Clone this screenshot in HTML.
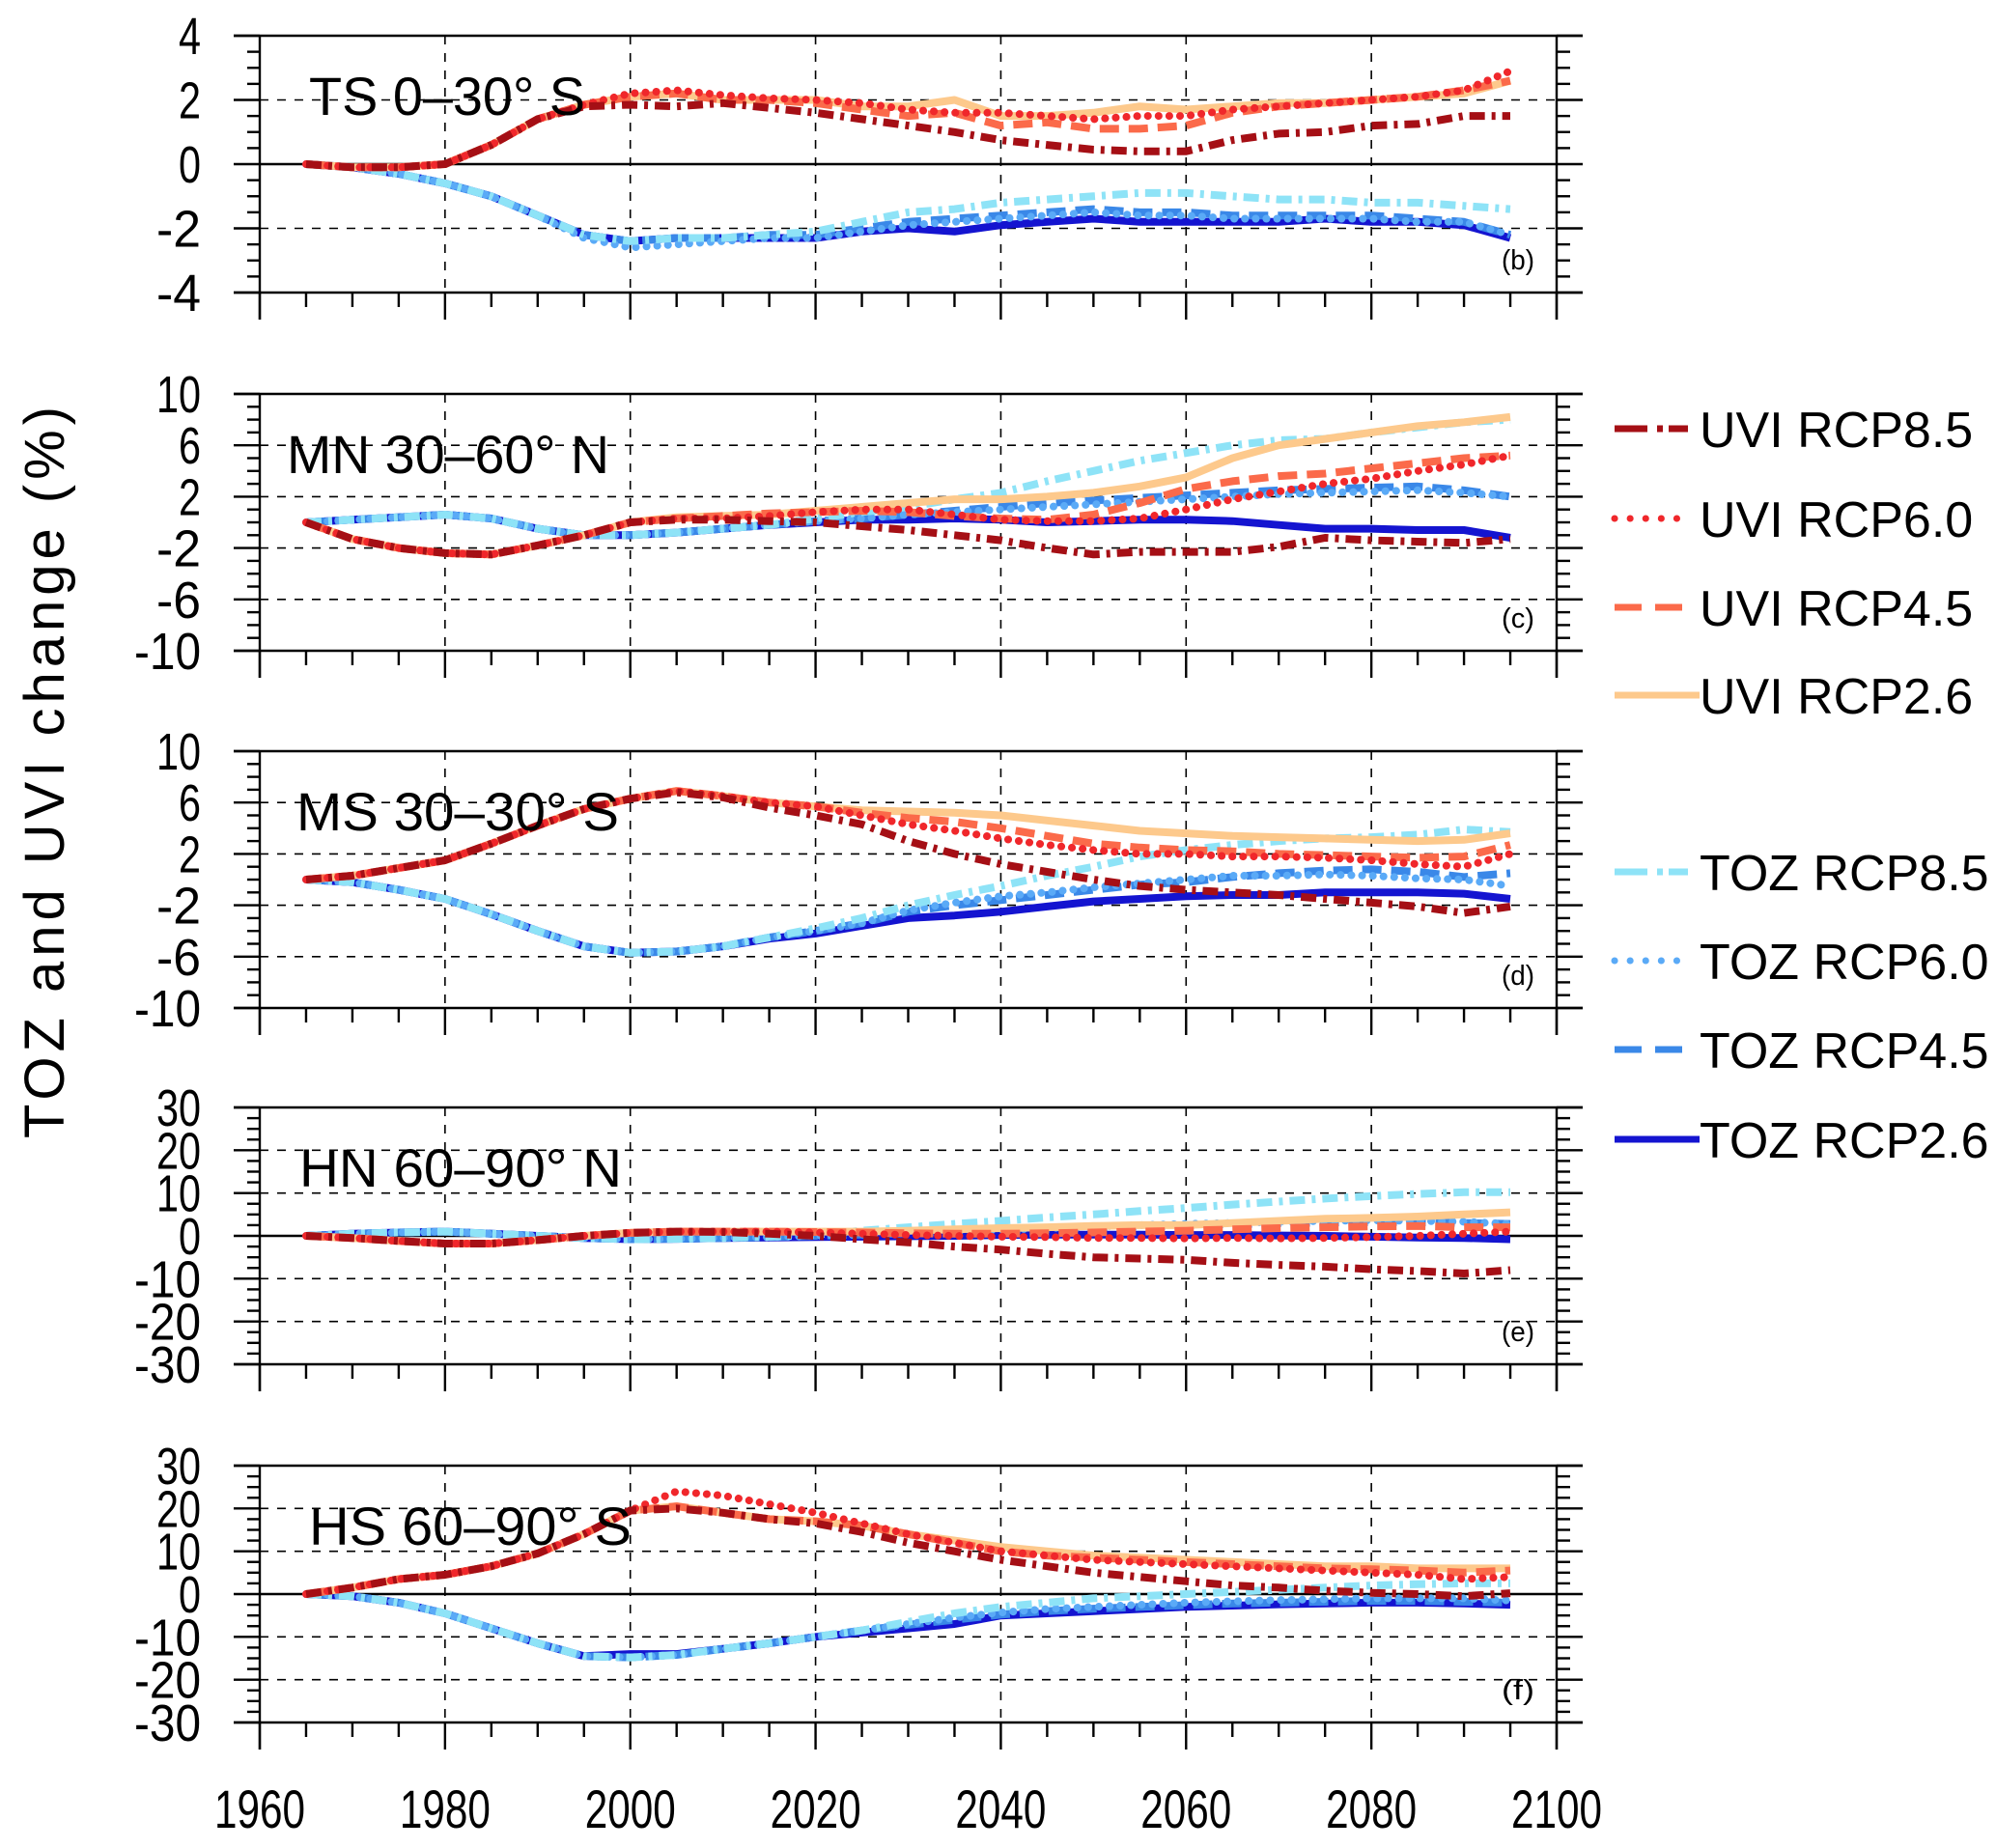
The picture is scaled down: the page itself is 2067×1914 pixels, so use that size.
<!DOCTYPE html>
<html><head><meta charset="utf-8"><style>
html,body{margin:0;padding:0;background:#fff;}
svg{display:block;font-family:"Liberation Sans",Arial,sans-serif;}
</style></head><body>
<svg id="chart" width="2067" height="1914" viewBox="0 0 2067 1914" xmlns="http://www.w3.org/2000/svg"></svg>
<script>
// ---- data (years 1965..2095 step 5) ----
const years = [1965,1970,1975,1980,1985,1990,1995,2000,2005,2010,2015,2020,2025,2030,2035,2040,2045,2050,2055,2060,2065,2070,2075,2080,2085,2090,2095];
const panelTitles = ["TS 0\u201330\u00b0 S","MN 30\u201360\u00b0 N","MS 30\u201330\u00b0 S","HN 60\u201390\u00b0 N","HS 60\u201390\u00b0 S"];
const panelLetters = ["(b)","(c)","(d)","(e)","(f)"];
const xTicks = [1960,1980,2000,2020,2040,2060,2080,2100];
const yTicks0 = [-4,-2,0,2,4];
const yTicks1 = [-10,-6,-2,2,6,10];
const yTicks2 = [-10,-6,-2,2,6,10];
const yTicks3 = [-30,-20,-10,0,10,20,30];
const yTicks4 = [-30,-20,-10,0,10,20,30];
const seriesNames = ["UVI RCP8.5","UVI RCP6.0","UVI RCP4.5","UVI RCP2.6","TOZ RCP8.5","TOZ RCP6.0","TOZ RCP4.5","TOZ RCP2.6"];

// TS
const ts_u85 = [0,-0.1,-0.1,0,0.6,1.4,1.8,1.85,1.8,1.9,1.75,1.6,1.4,1.2,1.0,0.75,0.6,0.45,0.4,0.4,0.75,0.95,1.0,1.2,1.25,1.5,1.5];
const ts_u60 = [0,-0.1,-0.1,0,0.6,1.4,1.85,2.2,2.3,2.15,2.05,2.0,1.9,1.7,1.6,1.6,1.5,1.4,1.5,1.5,1.7,1.8,1.9,2.0,2.1,2.3,2.9];
const ts_u45 = [0,-0.1,-0.1,0,0.6,1.4,1.85,2.1,2.2,2.0,2.0,1.9,1.7,1.5,1.6,1.2,1.3,1.1,1.1,1.2,1.6,1.8,1.9,2.0,2.1,2.3,2.6];
const ts_u26 = [0,-0.1,-0.1,0,0.6,1.4,1.85,2.1,2.2,2.0,2.0,2.0,1.8,1.8,2.0,1.5,1.5,1.6,1.8,1.7,1.8,1.9,1.9,2.0,2.1,2.2,2.6];
const ts_t85 = [0,-0.1,-0.3,-0.6,-1.0,-1.6,-2.2,-2.4,-2.3,-2.3,-2.2,-2.1,-1.8,-1.5,-1.4,-1.2,-1.1,-1.0,-0.9,-0.9,-1.0,-1.1,-1.1,-1.2,-1.2,-1.3,-1.4];
const ts_t60 = [0,-0.1,-0.3,-0.6,-1.0,-1.6,-2.3,-2.6,-2.5,-2.4,-2.3,-2.3,-2.1,-1.9,-1.8,-1.7,-1.6,-1.5,-1.6,-1.6,-1.7,-1.7,-1.7,-1.7,-1.8,-1.8,-2.2];
const ts_t45 = [0,-0.1,-0.3,-0.6,-1.0,-1.6,-2.2,-2.4,-2.3,-2.3,-2.2,-2.2,-2.0,-1.8,-1.7,-1.6,-1.5,-1.4,-1.5,-1.5,-1.6,-1.6,-1.6,-1.6,-1.7,-1.8,-2.2];
const ts_t26 = [0,-0.1,-0.3,-0.6,-1.0,-1.6,-2.2,-2.4,-2.3,-2.3,-2.3,-2.3,-2.1,-2.0,-2.1,-1.9,-1.8,-1.7,-1.8,-1.8,-1.8,-1.8,-1.7,-1.8,-1.8,-1.9,-2.3];
// MN
const mn_u85 = [0,-1.3,-2.0,-2.4,-2.5,-1.8,-1.0,0,0.2,0.2,0.1,0,-0.3,-0.6,-1.0,-1.4,-2.0,-2.5,-2.3,-2.3,-2.3,-1.9,-1.2,-1.4,-1.5,-1.6,-1.3];
const mn_u60 = [0,-1.3,-2.0,-2.4,-2.5,-1.8,-1.0,0,0.3,0.3,0.5,0.8,1.0,1.0,0.6,0.2,0.1,0.1,0.3,1.0,1.8,2.4,3.0,3.4,4.0,4.5,5.2];
const mn_u45 = [0,-1.3,-2.0,-2.4,-2.5,-1.8,-1.0,0,0.3,0.5,0.7,0.8,0.9,0.8,0.5,0.3,0.2,0.6,1.5,2.6,3.2,3.6,3.8,4.2,4.6,5.0,5.2];
const mn_u26 = [0,-1.3,-2.0,-2.4,-2.5,-1.8,-1.0,0,0.4,0.5,0.6,0.9,1.2,1.5,1.8,1.8,2.0,2.3,2.8,3.5,5.0,6.0,6.5,7.0,7.5,7.8,8.2];
const mn_t85 = [0,0.2,0.4,0.6,0.3,-0.5,-1.0,-1.0,-0.8,-0.5,-0.2,0.3,0.8,1.2,1.8,2.3,3.2,4.0,4.8,5.4,6.0,6.4,6.5,7.0,7.4,7.8,8.0];
const mn_t60 = [0,0.2,0.4,0.6,0.3,-0.5,-1.0,-1.0,-0.8,-0.5,-0.2,0.1,0.3,0.6,0.8,1.0,1.2,1.4,1.6,1.8,2.0,2.2,2.3,2.4,2.5,2.3,2.0];
const mn_t45 = [0,0.2,0.4,0.6,0.3,-0.5,-1.0,-1.0,-0.8,-0.5,-0.2,0.1,0.3,0.6,0.9,1.2,1.5,1.7,1.9,2.1,2.3,2.5,2.6,2.7,2.8,2.5,2.0];
const mn_t26 = [0,0.2,0.4,0.6,0.3,-0.5,-1.0,-1.0,-0.8,-0.5,-0.2,0,0.2,0.2,0.3,0.2,0,0.1,0.2,0.2,0.1,-0.2,-0.5,-0.5,-0.6,-0.6,-1.2];
// MS
const ms_u85 = [0,0.3,0.9,1.5,2.8,4.2,5.5,6.3,6.8,6.4,5.6,5.0,4.3,3.0,2.0,1.2,0.6,0,-0.5,-0.8,-1.0,-1.2,-1.5,-1.8,-2.1,-2.6,-2.1];
const ms_u60 = [0,0.3,0.9,1.5,2.8,4.2,5.5,6.3,6.9,6.5,6.0,5.7,5.0,4.3,3.8,3.2,2.7,2.3,2.0,2.0,1.8,1.8,1.7,1.5,1.2,1.0,2.0];
const ms_u45 = [0,0.3,0.9,1.5,2.8,4.2,5.5,6.3,6.9,6.5,6.0,5.7,5.2,4.8,4.5,4.0,3.4,2.8,2.5,2.3,2.2,2.0,1.9,1.8,1.7,1.8,2.7];
const ms_u26 = [0,0.3,0.9,1.5,2.8,4.2,5.5,6.3,6.9,6.5,6.0,5.7,5.4,5.3,5.2,5.0,4.6,4.2,3.8,3.6,3.4,3.3,3.2,3.1,3.0,3.1,3.6];
const ms_t85 = [0,-0.2,-0.8,-1.5,-2.7,-4.0,-5.2,-5.7,-5.6,-5.2,-4.5,-3.8,-3.0,-2.0,-1.2,-0.5,0.3,1.0,1.8,2.3,2.7,3.0,3.2,3.3,3.5,3.9,3.7];
const ms_t60 = [0,-0.2,-0.8,-1.5,-2.7,-4.0,-5.2,-5.7,-5.6,-5.2,-4.5,-4.0,-3.4,-2.4,-1.8,-1.3,-1.0,-0.6,-0.3,0,0.3,0.3,0.4,0.3,0.1,0,-0.5];
const ms_t45 = [0,-0.2,-0.8,-1.5,-2.7,-4.0,-5.2,-5.7,-5.6,-5.2,-4.5,-4.0,-3.4,-2.5,-2.0,-1.6,-1.2,-0.8,-0.4,-0.2,0.2,0.5,0.7,0.8,0.6,0.2,0.5];
const ms_t26 = [0,-0.2,-0.8,-1.5,-2.7,-4.0,-5.2,-5.7,-5.6,-5.2,-4.6,-4.2,-3.6,-3.0,-2.8,-2.5,-2.1,-1.7,-1.5,-1.3,-1.2,-1.2,-1.0,-1.0,-1.0,-1.1,-1.5];
// HN
const hn_u85 = [0,-0.5,-1.2,-1.8,-1.8,-1.0,0,0.7,1.0,0.9,0.5,0,-0.8,-1.5,-2.5,-3.2,-4.2,-5.0,-5.3,-5.6,-6.3,-6.8,-7.2,-7.8,-8.2,-8.8,-8.0];
const hn_u60 = [0,-0.5,-1.2,-1.8,-1.8,-1.0,0,0.7,1.0,1.0,1.0,0.8,0.5,0.2,0,-0.2,-0.3,-0.5,-0.5,-0.6,-0.5,-0.6,-0.5,-0.3,0,0.5,1.0];
const hn_u45 = [0,-0.5,-1.2,-1.8,-1.8,-1.0,0,0.7,1.0,1.0,1.0,0.9,0.8,0.6,0.5,0.5,0.6,0.8,1.0,1.2,1.5,1.8,2.0,2.2,2.3,2.0,2.0];
const hn_u26 = [0,-0.5,-1.2,-1.8,-1.8,-1.0,0,0.7,1.0,1.0,1.0,1.0,1.0,1.2,1.5,1.8,2.0,2.3,2.5,2.5,3.0,3.5,4.0,4.2,4.5,5.0,5.5];
const hn_t85 = [0,0.5,0.8,1.0,0.5,0,-0.5,-0.8,-0.7,-0.5,-0.2,0.3,1.2,2.0,2.8,3.5,4.3,5.0,5.8,6.5,7.3,8.0,8.7,9.3,9.8,10.2,10.2];
const hn_t60 = [0,0.5,0.8,1.0,0.5,0,-0.5,-0.8,-0.7,-0.5,-0.3,0,0.3,0.6,1.0,1.4,1.8,2.2,2.5,2.8,3.0,3.3,3.5,3.6,3.5,3.3,2.8];
const hn_t45 = [0,0.5,0.8,1.0,0.5,0,-0.5,-0.8,-0.7,-0.5,-0.3,0,0.3,0.6,1.0,1.3,1.6,1.9,2.2,2.5,2.7,2.9,3.1,3.2,3.2,3.0,2.8];
const hn_t26 = [0,0.5,0.8,1.0,0.5,0,-0.5,-0.8,-0.7,-0.5,-0.4,-0.3,-0.2,-0.1,0,0.2,0.3,0.3,0.3,0.2,0.2,0.1,0,-0.2,-0.4,-0.5,-0.8];
// HS
const hs_u85 = [0,1.5,3.5,4.5,6.5,9.5,14,19.5,20,19,17.5,16.5,14.5,12,10,8,6.5,5,4,3,2,1.5,0.8,0.3,0,-0.5,0.2];
const hs_u60 = [0,1.5,3.5,4.5,6.5,9.5,14,19.5,24,23,21,19,16.5,14,12,10,9,8,7.5,7,6.5,6,5.5,5,4.5,3.5,4];
const hs_u45 = [0,1.5,3.5,4.5,6.5,9.5,14,19.5,20.5,19,17.5,17,16,14,12,10,9,8.5,8,7.5,7,6.5,6,5.8,5.5,5,5.5];
const hs_u26 = [0,1.5,3.5,4.5,6.5,9.5,14,19.5,20.5,19,17.5,17,16,14,12.5,11,10,9,8.5,8,7.5,7,6.5,6.5,6,6,6];
const hs_t85 = [0,-0.5,-2,-4.5,-8,-11.5,-14.5,-14.8,-14.2,-12.8,-11.5,-10,-8.5,-6.5,-4.5,-3,-2,-1,-0.5,0,0.5,1,1.5,2,2.3,2.5,2.5];
const hs_t60 = [0,-0.5,-2,-4.5,-8,-11.5,-14.5,-14.8,-14.2,-12.8,-11.5,-10,-8.5,-7,-5.5,-4.3,-3.5,-3,-2.5,-2,-1.7,-1.4,-1.2,-1,-1,-1,-1.5];
const hs_t45 = [0,-0.5,-2,-4.5,-8,-11.5,-14.5,-14.8,-14.2,-12.8,-11.5,-10,-8.5,-7.2,-6,-4.8,-4,-3.4,-3,-2.6,-2.2,-2,-1.8,-1.6,-1.6,-1.8,-2];
const hs_t26 = [0,-0.5,-2,-4.5,-8,-11.5,-14.5,-14,-14,-12.8,-11.5,-10,-9,-8,-7,-5,-4.5,-4,-3.5,-3,-2.7,-2.4,-2.2,-2,-2,-2.2,-2.5];

const panelData = [
 [ts_u85,ts_u60,ts_u45,ts_u26,ts_t85,ts_t60,ts_t45,ts_t26],
 [mn_u85,mn_u60,mn_u45,mn_u26,mn_t85,mn_t60,mn_t45,mn_t26],
 [ms_u85,ms_u60,ms_u45,ms_u26,ms_t85,ms_t60,ms_t45,ms_t26],
 [hn_u85,hn_u60,hn_u45,hn_u26,hn_t85,hn_t60,hn_t45,hn_t26],
 [hs_u85,hs_u60,hs_u45,hs_u26,hs_t85,hs_t60,hs_t45,hs_t26]];
const panelTicks = [yTicks0,yTicks1,yTicks2,yTicks3,yTicks4];

// ---- styles/layout ----
const colors = ["#a50f15","#f0272b","#fb6a4a","#fdc98c","#8ee3f7","#5aaaf7","#3a88e8","#1414d0"];
const dashes = ["16 7 4 7","0.1 11","20 10","","16 7 4 7","0.1 11","20 10",""];
const minorStep = [0.5,1,1,2.5,2.5];
const X0=269, X1=1612, PH=266, TOPS=[37,408,778,1147,1518];
const NS="http://www.w3.org/2000/svg";
const svg=document.getElementById('chart');
function xs(yr){return X0+(yr-1960)*(X1-X0)/140;}
function mk(tag,attrs,parent){const e=document.createElementNS(NS,tag);for(const k in attrs)e.setAttribute(k,attrs[k]);(parent||svg).appendChild(e);return e;}

for(let p=0;p<5;p++){
  const ticks=panelTicks[p], ymin=ticks[0], ymax=ticks[ticks.length-1], top=TOPS[p], bot=top+PH;
  const ys=v=>bot-(v-ymin)/(ymax-ymin)*PH;
  const g=mk('g',{});
  
  
  for(let i=1;i<xTicks.length-1;i++){
    const l=mk('line',{x1:xs(xTicks[i]),x2:xs(xTicks[i]),y1:top,y2:bot,stroke:'#000','stroke-width':1.6,'stroke-dasharray':'9 9'},g);
    
    
  }
  ticks.forEach(t=>{
    if(t===ymin||t===ymax)return;
    const l=mk('line',{x1:X0,x2:X1,y1:ys(t),y2:ys(t),stroke:'#000','stroke-width':t===0?2.6:1.6,'stroke-dasharray':t===0?'':'9 9'},g);
    
    
  });
  for(let s=7;s>=0;s--){
    const d=panelData[p][s];
    let pts=d.map((v,i)=>(i?'L':'M')+xs(years[i]).toFixed(1)+','+ys(v).toFixed(1)).join(' ');
    const path=mk('path',{d:pts,fill:'none',stroke:colors[s],'stroke-width':8,'stroke-linecap':dashes[s]==='0.1 11'?'round':'butt','stroke-linejoin':'round','stroke-dasharray':dashes[s]},g);
    
    
  }
  mk('line',{x1:242,x2:1639,y1:top,y2:top,stroke:'#000','stroke-width':2.6},g);
  mk('line',{x1:242,x2:1639,y1:bot,y2:bot,stroke:'#000','stroke-width':2.6},g);
  mk('line',{x1:X0,x2:X0,y1:top,y2:bot+28,stroke:'#000','stroke-width':2.4},g);
  mk('line',{x1:X1,x2:X1,y1:top,y2:bot+28,stroke:'#000','stroke-width':2.4},g);
  for(let v=ymin;v<=ymax+1e-6;v+=minorStep[p]){
    const maj=ticks.some(t=>Math.abs(t-v)<1e-6);
    mk('line',{x1:maj?242:256,x2:X0,y1:ys(v),y2:ys(v),stroke:'#000','stroke-width':2.4},g);
    mk('line',{x1:X1,x2:maj?1639:1626,y1:ys(v),y2:ys(v),stroke:'#000','stroke-width':2.4},g);
  }
  ticks.forEach(t=>{
    const tx=mk('text',{x:208,y:ys(t)+19,'font-size':54,'text-anchor':'end',textLength:String(t).length*23,lengthAdjust:'spacingAndGlyphs'},g);
    tx.textContent=String(t);
    
    
  });
  for(let yr=1960;yr<=2100;yr+=5){
    const maj=yr%20===0;
    mk('line',{x1:xs(yr),x2:xs(yr),y1:bot,y2:bot+(maj?28:15),stroke:'#000','stroke-width':2.4},g);
  }
  const tl=mk('text',{x:[320,297,307,310,320][p],y:top+82,'font-size':56,textLength:[286,334,334,334,334][p],lengthAdjust:'spacingAndGlyphs'},g);
  tl.textContent=panelTitles[p];
  
  
  const lt=mk('text',{x:1555,y:bot-24,'font-size':29,textLength:34,lengthAdjust:'spacingAndGlyphs'},g);
  lt.textContent=panelLetters[p];
  
  
}
xTicks.forEach(t=>{
  const tx=mk('text',{x:xs(t),y:1893,'font-size':56,'text-anchor':'middle',textLength:94,lengthAdjust:'spacingAndGlyphs'});
  tx.textContent=String(t);
  
  
});
const yt=mk('text',{x:0,y:0,'font-size':58,'text-anchor':'middle',textLength:758,lengthAdjust:'spacing',transform:'translate(66,800) rotate(-90)'});
yt.textContent='TOZ  and  UVI change (%)';


const legY=[444,537,629,720,903,995,1087,1180];
seriesNames.forEach((n,i)=>{
  const g=mk('g',{});
  
  
  mk('line',{x1:1672,x2:i===3||i===7?1760:1748,y1:legY[i],y2:legY[i],stroke:colors[i],'stroke-width':7,'stroke-linecap':dashes[i]==='0.1 11'?'round':'butt','stroke-dasharray':dashes[i]==='0.1 11'?'0.1 16':(dashes[i]==='20 10'?'28 14':(dashes[i]?'34 10 6 6 12 0':''))},g);
  const tx=mk('text',{x:1760,y:legY[i]+19,'font-size':52},g);
  tx.textContent=n;
});
</script>
</body></html>
